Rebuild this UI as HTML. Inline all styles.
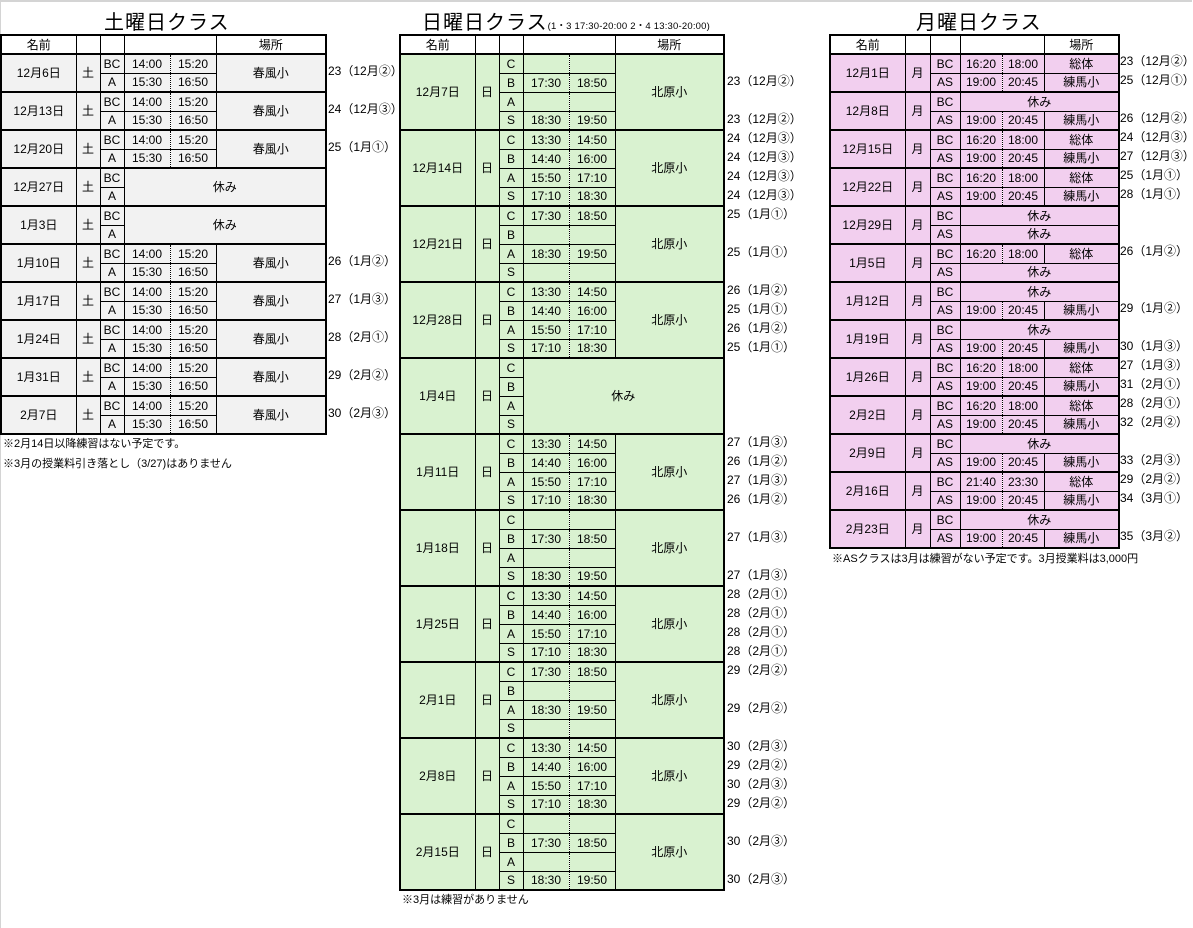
<!DOCTYPE html>
<html><head><meta charset="utf-8"><style>
body{margin:0;width:1193px;height:928px;background:#fff;position:relative;overflow:hidden;font-family:"Liberation Sans","Noto Sans CJK JP",sans-serif;color:#000}
.frame{position:absolute;left:0;top:0;width:1191px;height:926px;border-top:2px solid #d4d4d4;border-left:1px solid #d4d4d4}
.t{position:absolute;top:34px;border-collapse:collapse;table-layout:fixed;font-size:12px;border:2px solid #000}
.t td{border:1px solid #000;padding:0;text-align:center;white-space:nowrap;overflow:hidden;line-height:14px}
.t tr{height:19px}
.t tr.b td{border-top:2px solid #000}
.t tr.h td{background:#fff;border-bottom:2px solid #000}
.t td.s{border-right:1px dotted #000}
.t td.e{border-left:1px dotted #000}
.g td{background:#f2f2f2}
.gr td{background:#d9f2d0}
.pk td{background:#f2cfef}
.pk td.pl{line-height:10px;vertical-align:top;padding-top:2px}
.lab{position:absolute;top:52px;font-size:12px;line-height:19px;white-space:pre}
.ttl{position:absolute;font-size:20px;top:6px;letter-spacing:1px}
.note{position:absolute;font-size:11px;white-space:nowrap}
</style></head><body>
<div class="frame"></div>

<div class="ttl" style="left:104px">土曜日クラス</div>
<div class="ttl" style="left:422px">日曜日クラス<span style="font-size:9.5px;letter-spacing:0.2px">(1・3 17:30-20:00 2・4 13:30-20:00)</span></div>
<div class="ttl" style="left:916px">月曜日クラス</div>

<table class="t g" style="left:0;width:325px">
<colgroup><col style="width:75px"><col style="width:24px"><col style="width:24px"><col style="width:46px"><col style="width:46px"><col style="width:110px"></colgroup>
<tr class="h"><td>名前</td><td></td><td></td><td colspan="2"></td><td>場所</td></tr>
<tr class="b"><td rowspan="2">12月6日</td><td rowspan="2">土</td><td>BC</td><td class="s">14:00</td><td class="e">15:20</td><td rowspan="2">春風小</td></tr>
<tr><td>A</td><td class="s">15:30</td><td class="e">16:50</td></tr>
<tr class="b"><td rowspan="2">12月13日</td><td rowspan="2">土</td><td>BC</td><td class="s">14:00</td><td class="e">15:20</td><td rowspan="2">春風小</td></tr>
<tr><td>A</td><td class="s">15:30</td><td class="e">16:50</td></tr>
<tr class="b"><td rowspan="2">12月20日</td><td rowspan="2">土</td><td>BC</td><td class="s">14:00</td><td class="e">15:20</td><td rowspan="2">春風小</td></tr>
<tr><td>A</td><td class="s">15:30</td><td class="e">16:50</td></tr>
<tr class="b"><td rowspan="2">12月27日</td><td rowspan="2">土</td><td>BC</td><td colspan="3" rowspan="2">休み</td></tr>
<tr><td>A</td></tr>
<tr class="b"><td rowspan="2">1月3日</td><td rowspan="2">土</td><td>BC</td><td colspan="3" rowspan="2">休み</td></tr>
<tr><td>A</td></tr>
<tr class="b"><td rowspan="2">1月10日</td><td rowspan="2">土</td><td>BC</td><td class="s">14:00</td><td class="e">15:20</td><td rowspan="2">春風小</td></tr>
<tr><td>A</td><td class="s">15:30</td><td class="e">16:50</td></tr>
<tr class="b"><td rowspan="2">1月17日</td><td rowspan="2">土</td><td>BC</td><td class="s">14:00</td><td class="e">15:20</td><td rowspan="2">春風小</td></tr>
<tr><td>A</td><td class="s">15:30</td><td class="e">16:50</td></tr>
<tr class="b"><td rowspan="2">1月24日</td><td rowspan="2">土</td><td>BC</td><td class="s">14:00</td><td class="e">15:20</td><td rowspan="2">春風小</td></tr>
<tr><td>A</td><td class="s">15:30</td><td class="e">16:50</td></tr>
<tr class="b"><td rowspan="2">1月31日</td><td rowspan="2">土</td><td>BC</td><td class="s">14:00</td><td class="e">15:20</td><td rowspan="2">春風小</td></tr>
<tr><td>A</td><td class="s">15:30</td><td class="e">16:50</td></tr>
<tr class="b"><td rowspan="2">2月7日</td><td rowspan="2">土</td><td>BC</td><td class="s">14:00</td><td class="e">15:20</td><td rowspan="2">春風小</td></tr>
<tr><td>A</td><td class="s">15:30</td><td class="e">16:50</td></tr>
</table>
<div class="lab" style="left:328px;line-height:38px">23（12月②）
24（12月③）
25（1月①）


26（1月②）
27（1月③）
28（2月①）
29（2月②）
30（2月③）</div>
<div class="note" style="left:3px;top:435px">※2月14日以降練習はない予定です。</div>
<div class="note" style="left:3px;top:455px">※3月の授業料引き落とし（3/27)はありません</div>

<table class="t gr" style="left:399px;width:324px">
<colgroup><col style="width:75px"><col style="width:24px"><col style="width:24px"><col style="width:46px"><col style="width:46px"><col style="width:109px"></colgroup>
<tr class="h"><td>名前</td><td></td><td></td><td colspan="2"></td><td>場所</td></tr>
<tr class="b"><td rowspan="4">12月7日</td><td rowspan="4">日</td><td>C</td><td class="s"></td><td class="e"></td><td rowspan="4">北原小</td></tr>
<tr><td>B</td><td class="s">17:30</td><td class="e">18:50</td></tr>
<tr><td>A</td><td class="s"></td><td class="e"></td></tr>
<tr><td>S</td><td class="s">18:30</td><td class="e">19:50</td></tr>
<tr class="b"><td rowspan="4">12月14日</td><td rowspan="4">日</td><td>C</td><td class="s">13:30</td><td class="e">14:50</td><td rowspan="4">北原小</td></tr>
<tr><td>B</td><td class="s">14:40</td><td class="e">16:00</td></tr>
<tr><td>A</td><td class="s">15:50</td><td class="e">17:10</td></tr>
<tr><td>S</td><td class="s">17:10</td><td class="e">18:30</td></tr>
<tr class="b"><td rowspan="4">12月21日</td><td rowspan="4">日</td><td>C</td><td class="s">17:30</td><td class="e">18:50</td><td rowspan="4">北原小</td></tr>
<tr><td>B</td><td class="s"></td><td class="e"></td></tr>
<tr><td>A</td><td class="s">18:30</td><td class="e">19:50</td></tr>
<tr><td>S</td><td class="s"></td><td class="e"></td></tr>
<tr class="b"><td rowspan="4">12月28日</td><td rowspan="4">日</td><td>C</td><td class="s">13:30</td><td class="e">14:50</td><td rowspan="4">北原小</td></tr>
<tr><td>B</td><td class="s">14:40</td><td class="e">16:00</td></tr>
<tr><td>A</td><td class="s">15:50</td><td class="e">17:10</td></tr>
<tr><td>S</td><td class="s">17:10</td><td class="e">18:30</td></tr>
<tr class="b"><td rowspan="4">1月4日</td><td rowspan="4">日</td><td>C</td><td colspan="3" rowspan="4">休み</td></tr>
<tr><td>B</td></tr>
<tr><td>A</td></tr>
<tr><td>S</td></tr>
<tr class="b"><td rowspan="4">1月11日</td><td rowspan="4">日</td><td>C</td><td class="s">13:30</td><td class="e">14:50</td><td rowspan="4">北原小</td></tr>
<tr><td>B</td><td class="s">14:40</td><td class="e">16:00</td></tr>
<tr><td>A</td><td class="s">15:50</td><td class="e">17:10</td></tr>
<tr><td>S</td><td class="s">17:10</td><td class="e">18:30</td></tr>
<tr class="b"><td rowspan="4">1月18日</td><td rowspan="4">日</td><td>C</td><td class="s"></td><td class="e"></td><td rowspan="4">北原小</td></tr>
<tr><td>B</td><td class="s">17:30</td><td class="e">18:50</td></tr>
<tr><td>A</td><td class="s"></td><td class="e"></td></tr>
<tr><td>S</td><td class="s">18:30</td><td class="e">19:50</td></tr>
<tr class="b"><td rowspan="4">1月25日</td><td rowspan="4">日</td><td>C</td><td class="s">13:30</td><td class="e">14:50</td><td rowspan="4">北原小</td></tr>
<tr><td>B</td><td class="s">14:40</td><td class="e">16:00</td></tr>
<tr><td>A</td><td class="s">15:50</td><td class="e">17:10</td></tr>
<tr><td>S</td><td class="s">17:10</td><td class="e">18:30</td></tr>
<tr class="b"><td rowspan="4">2月1日</td><td rowspan="4">日</td><td>C</td><td class="s">17:30</td><td class="e">18:50</td><td rowspan="4">北原小</td></tr>
<tr><td>B</td><td class="s"></td><td class="e"></td></tr>
<tr><td>A</td><td class="s">18:30</td><td class="e">19:50</td></tr>
<tr><td>S</td><td class="s"></td><td class="e"></td></tr>
<tr class="b"><td rowspan="4">2月8日</td><td rowspan="4">日</td><td>C</td><td class="s">13:30</td><td class="e">14:50</td><td rowspan="4">北原小</td></tr>
<tr><td>B</td><td class="s">14:40</td><td class="e">16:00</td></tr>
<tr><td>A</td><td class="s">15:50</td><td class="e">17:10</td></tr>
<tr><td>S</td><td class="s">17:10</td><td class="e">18:30</td></tr>
<tr class="b"><td rowspan="4">2月15日</td><td rowspan="4">日</td><td>C</td><td class="s"></td><td class="e"></td><td rowspan="4">北原小</td></tr>
<tr><td>B</td><td class="s">17:30</td><td class="e">18:50</td></tr>
<tr><td>A</td><td class="s"></td><td class="e"></td></tr>
<tr><td>S</td><td class="s">18:30</td><td class="e">19:50</td></tr>
</table>
<div class="lab" style="left:727px;top:53px"> 
23（12月②）
 
23（12月②）
24（12月③）
24（12月③）
24（12月③）
24（12月③）
25（1月①）
 
25（1月①）
 
26（1月②）
25（1月①）
26（1月②）
25（1月①）
 
 
 
 
27（1月③）
26（1月②）
27（1月③）
26（1月②）
 
27（1月③）
 
27（1月③）
28（2月①）
28（2月①）
28（2月①）
28（2月①）
29（2月②）
 
29（2月②）
 
30（2月③）
29（2月②）
30（2月③）
29（2月②）
 
30（2月③）
 
30（2月③）</div>
<div class="note" style="left:402px;top:891px">※3月は練習がありません</div>

<table class="t pk" style="left:829px;width:289px">
<colgroup><col style="width:75px"><col style="width:25px"><col style="width:30px"><col style="width:42px"><col style="width:42px"><col style="width:75px"></colgroup>
<tr class="h"><td>名前</td><td></td><td></td><td colspan="2"></td><td>場所</td></tr>
<tr class="b"><td rowspan="2">12月1日</td><td rowspan="2">月</td><td>BC</td><td class="s">16:20</td><td class="e">18:00</td><td>総体</td></tr>
<tr><td>AS</td><td class="s">19:00</td><td class="e">20:45</td><td>練馬小</td></tr>
<tr class="b"><td rowspan="2">12月8日</td><td rowspan="2">月</td><td>BC</td><td colspan="3">休み</td></tr>
<tr><td>AS</td><td class="s">19:00</td><td class="e">20:45</td><td>練馬小</td></tr>
<tr class="b"><td rowspan="2">12月15日</td><td rowspan="2">月</td><td>BC</td><td class="s">16:20</td><td class="e">18:00</td><td>総体</td></tr>
<tr><td>AS</td><td class="s">19:00</td><td class="e">20:45</td><td>練馬小</td></tr>
<tr class="b"><td rowspan="2">12月22日</td><td rowspan="2">月</td><td>BC</td><td class="s">16:20</td><td class="e">18:00</td><td>総体</td></tr>
<tr><td>AS</td><td class="s">19:00</td><td class="e">20:45</td><td>練馬小</td></tr>
<tr class="b"><td rowspan="2">12月29日</td><td rowspan="2">月</td><td>BC</td><td colspan="3">休み</td></tr>
<tr><td>AS</td><td colspan="3">休み</td></tr>
<tr class="b"><td rowspan="2">1月5日</td><td rowspan="2">月</td><td>BC</td><td class="s">16:20</td><td class="e">18:00</td><td>総体</td></tr>
<tr><td>AS</td><td colspan="3">休み</td></tr>
<tr class="b"><td rowspan="2">1月12日</td><td rowspan="2">月</td><td>BC</td><td colspan="3">休み</td></tr>
<tr><td>AS</td><td class="s">19:00</td><td class="e">20:45</td><td>練馬小</td></tr>
<tr class="b"><td rowspan="2">1月19日</td><td rowspan="2">月</td><td>BC</td><td colspan="3">休み</td></tr>
<tr><td>AS</td><td class="s">19:00</td><td class="e">20:45</td><td>練馬小</td></tr>
<tr class="b"><td rowspan="2">1月26日</td><td rowspan="2">月</td><td>BC</td><td class="s">16:20</td><td class="e">18:00</td><td>総体</td></tr>
<tr><td>AS</td><td class="s">19:00</td><td class="e">20:45</td><td>練馬小</td></tr>
<tr class="b"><td rowspan="2">2月2日</td><td rowspan="2">月</td><td>BC</td><td class="s">16:20</td><td class="e">18:00</td><td>総体</td></tr>
<tr><td>AS</td><td class="s">19:00</td><td class="e">20:45</td><td>練馬小</td></tr>
<tr class="b"><td rowspan="2">2月9日</td><td rowspan="2">月</td><td>BC</td><td colspan="3">休み</td></tr>
<tr><td>AS</td><td class="s">19:00</td><td class="e">20:45</td><td>練馬小</td></tr>
<tr class="b"><td rowspan="2">2月16日</td><td rowspan="2">月</td><td>BC</td><td class="s">21:40</td><td class="e">23:30</td><td>総体</td></tr>
<tr><td>AS</td><td class="s">19:00</td><td class="e">20:45</td><td>練馬小</td></tr>
<tr class="b"><td rowspan="2">2月23日</td><td rowspan="2">月</td><td>BC</td><td colspan="3">休み</td></tr>
<tr><td>AS</td><td class="s">19:00</td><td class="e">20:45</td><td>練馬小</td></tr>
</table>
<div class="lab" style="left:1120px">23（12月②）
25（12月①）
 
26（12月②）
24（12月③）
27（12月③）
25（1月①）
28（1月①）
 
 
26（1月②）
 
 
29（1月②）
 
30（1月③）
27（1月③）
31（2月①）
28（2月①）
32（2月②）
 
33（2月③）
29（2月②）
34（3月①）
 
35（3月②）</div>
<div class="note" style="left:832px;top:550px">※ASクラスは3月は練習がない予定です。3月授業料は3,000円</div>
</body></html>
